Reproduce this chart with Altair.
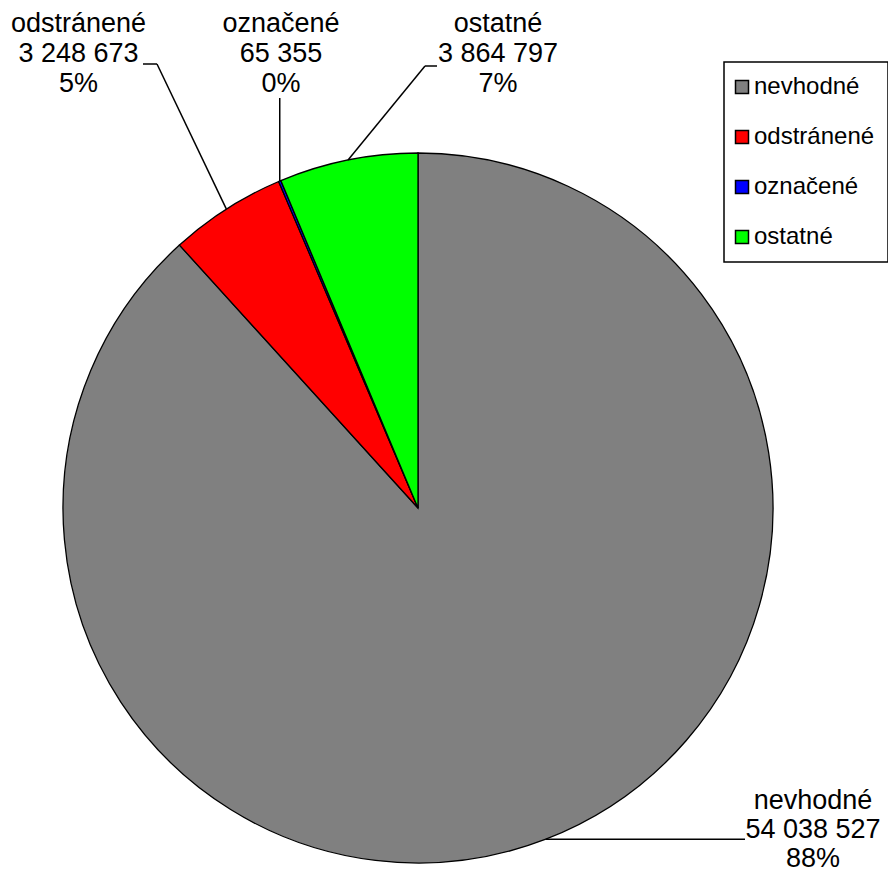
import math
import altair as alt
import pandas as pd

# ---- data ----
categories = ["nevhodné", "odstránené", "označené", "ostatné"]
values = [54038527, 3248673, 65355, 3864797]
percent_labels = ["88%", "5%", "0%", "7%"]
colors = ["#808080", "#FF0000", "#0000FF", "#00FF00"]

# ---- layout (chart pixel coordinates) ----
CX, CY, R = 410, 500, 355
FONT = "Liberation Sans"
label_pos = {            # text centre x, first-line baseline y, line step
    "nevhodné": (805, 801, 29),
    "odstránené": (70.5, 24, 30),
    "označené": (273, 24, 30),
    "ostatné": (490, 24, 30),
}
leader_pts = {           # points after the slice edge; None = keep edge coordinate
    "nevhodné": [(737, None)],
    "odstránené": [(149, 56), (135, 56)],
    "označené": [(None, 90)],
    "ostatné": [(417, 58), (429, 58)],
}

total = sum(values)
pie_df = pd.DataFrame({"cat": categories, "value": values, "idx": list(range(len(values)))})

rules, texts = [], []
cum = 0
for cat, v, pct in zip(categories, values, percent_labels):
    mid = (cum + v / 2) / total * 2 * math.pi
    cum += v
    ex, ey = CX + R * math.sin(mid), CY - R * math.cos(mid)
    px, py = ex, ey
    for (nx, ny) in leader_pts[cat]:
        nx = ex if nx is None else nx
        ny = ey if ny is None else ny
        rules.append({"x": px, "y": py, "x2": nx, "y2": ny})
        px, py = nx, ny
    tx, ty, step = label_pos[cat]
    lines = [cat, f"{v:,}".replace(",", " "), pct]
    for i, t in enumerate(lines):
        texts.append({"x": tx, "y": ty + i * step, "t": t})

rules_df = pd.DataFrame(rules)
texts_df = pd.DataFrame(texts)

arc = alt.Chart(pie_df).mark_arc(
    radius=R, x=CX, y=CY, stroke="black", strokeWidth=1.3
).encode(
    theta=alt.Theta("value:Q", stack=True),
    order=alt.Order("idx:Q"),
    color=alt.Color(
        "cat:N",
        scale=alt.Scale(domain=categories, range=colors),
        legend=alt.Legend(
            title=None, orient="none", legendX=716, legendY=54,
            strokeColor="black", fillColor="white", padding=13,
            symbolType="square", symbolSize=169, symbolStrokeColor="black",
            symbolStrokeWidth=1.5, symbolOpacity=1, symbolOffset=-7,
            labelFont=FONT, labelFontSize=24, labelColor="black",
            labelOffset=0, rowPadding=26, direction="vertical", labelLimit=300,
        ),
    ),
)

leaders = alt.Chart(rules_df).mark_rule(color="black", strokeWidth=1.5).encode(
    x=alt.X("x:Q", scale=None, axis=None),
    y=alt.Y("y:Q", scale=None, axis=None),
    x2="x2:Q",
    y2="y2:Q",
)

labels = alt.Chart(texts_df).mark_text(
    font=FONT, fontSize=27, align="center", baseline="alphabetic", color="black"
).encode(
    x=alt.X("x:Q", scale=None, axis=None),
    y=alt.Y("y:Q", scale=None, axis=None),
    text="t:N",
)

chart = alt.layer(arc, leaders, labels).properties(
    width=880, height=865, padding=0,
    autosize=alt.AutoSizeParams(type="none"),
).configure_view(stroke=None).configure_legend(strokeWidth=1.5)

chart.save("out.html", embed_options={"renderer": "svg", "actions": False})
